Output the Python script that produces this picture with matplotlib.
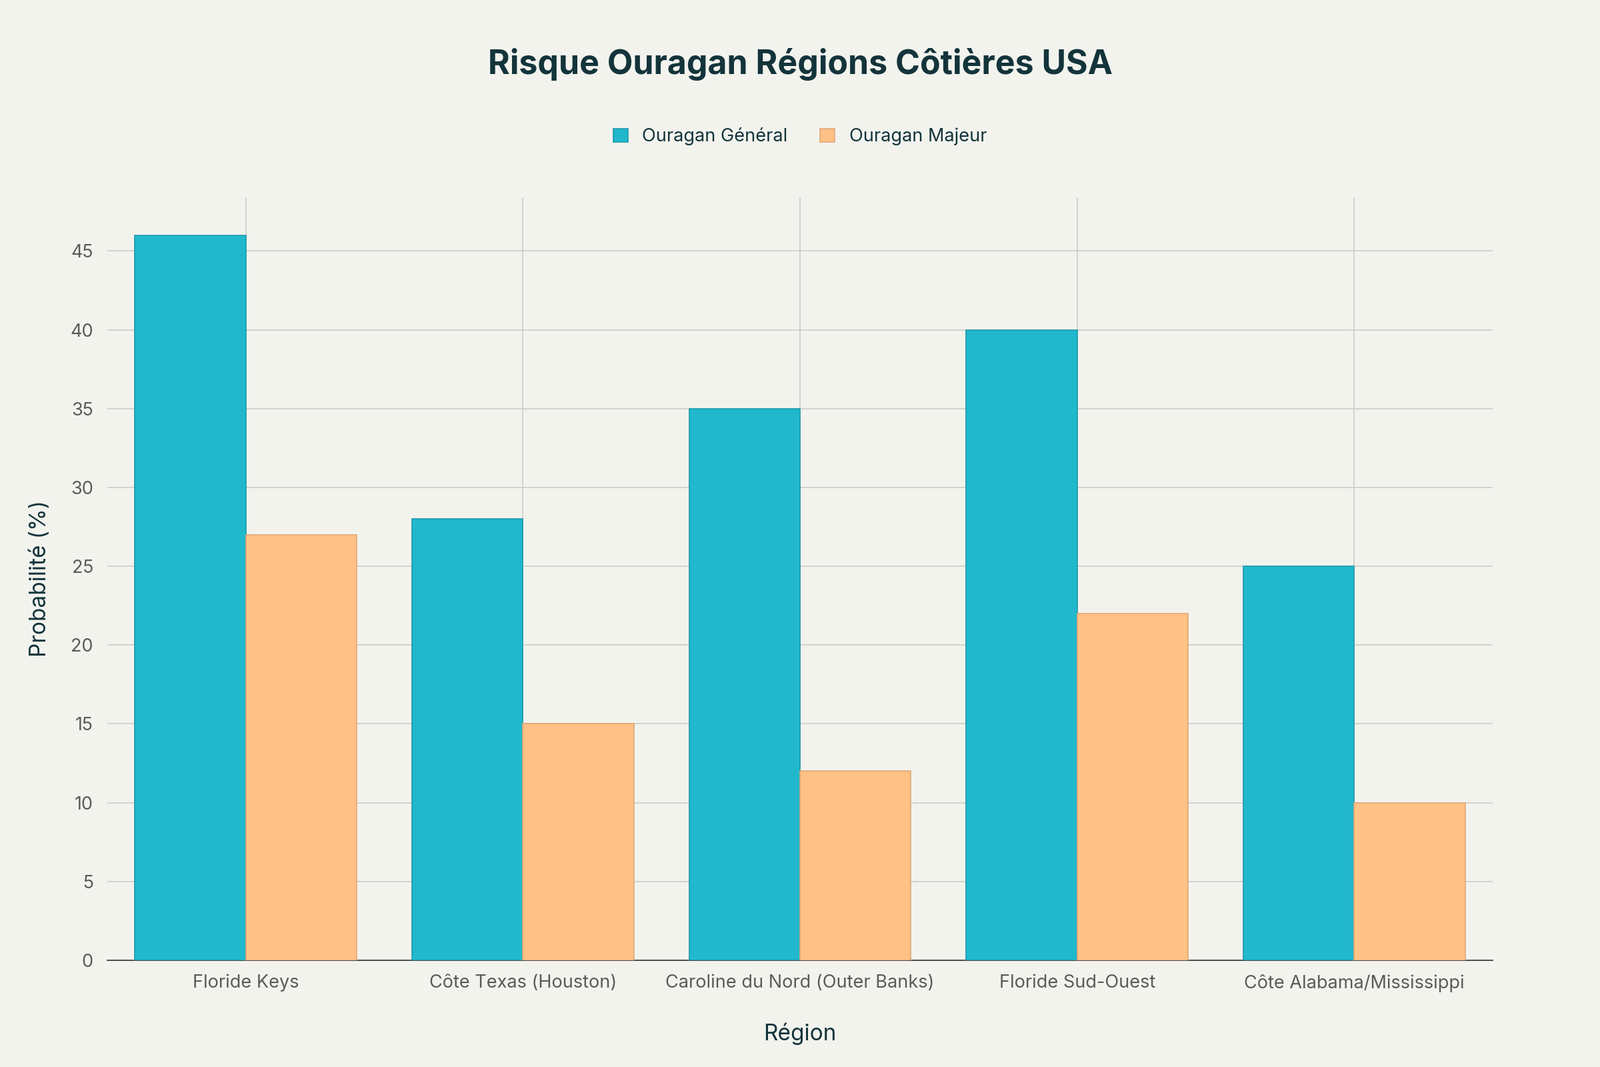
import matplotlib.pyplot as plt
import numpy as np

plt.rcParams["font.family"] = "Inter"

REGIONS = [
    "Floride Keys",
    "Côte Texas (Houston)",
    "Caroline du Nord (Outer Banks)",
    "Floride Sud-Ouest",
    "Côte Alabama/Mississippi",
]
GENERAL = [46, 28, 35, 40, 25]
MAJEUR = [27, 15, 12, 22, 10]
Y_TICKS = [0, 5, 10, 15, 20, 25, 30, 35, 40, 45]

BG = "#F3F3EE"
TEXT = "#13343B"

fig = plt.figure(figsize=(16, 16 / 1.5), dpi=150, facecolor=BG)
ax = fig.add_axes([0.067, 0.1, 0.866, 0.715], facecolor=BG)

x = np.arange(len(REGIONS))
width = 0.4
ax.bar(x - width / 2, GENERAL, width, color="#21B8CD", edgecolor="#1a9aab",
       linewidth=0.8, label="Ouragan Général", zorder=3)
ax.bar(x + width / 2, MAJEUR, width, color="#FFC185", edgecolor="#e0a878",
       linewidth=0.8, label="Ouragan Majeur", zorder=3)

ax.set_xlim(-0.5, len(REGIONS) - 0.5)
ax.set_ylim(0, 48.4)
ax.set_yticks(Y_TICKS)
ax.set_xticks(x)
ax.set_xticklabels(REGIONS)
ax.grid(color="#d0d0cc", linewidth=0.9, zorder=0)
for side in ("top", "right", "left"):
    ax.spines[side].set_visible(False)
ax.spines["bottom"].set_color("#333333")
ax.tick_params(axis="both", length=0, labelsize=13, colors="#5a5a5a", pad=10)

ax.set_xlabel("Région", fontsize=16, color=TEXT, labelpad=22)
ax.set_ylabel("Probabilité (%)", fontsize=16, color=TEXT, labelpad=14)

fig.suptitle("Risque Ouragan Régions Côtières USA", fontsize=24,
             fontweight="bold", color=TEXT, y=0.955)
fig.legend(loc="center", bbox_to_anchor=(0.5, 0.872), ncol=2, frameon=False,
           fontsize=13, handlelength=0.8, handleheight=0.8, columnspacing=1.8,
           labelcolor=TEXT)

fig.savefig("out.png", dpi=150, facecolor=BG)
